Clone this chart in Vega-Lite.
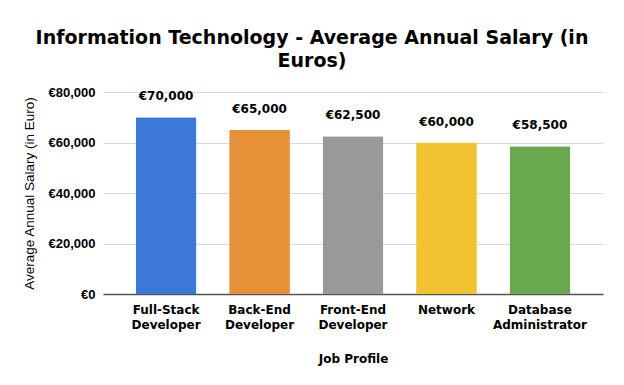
{
  "$schema": "https://vega.github.io/schema/vega-lite/v6.json",
  "width": 500,
  "height": 202,
  "autosize": {"type": "none"},
  "padding": {"left": 103, "top": 92, "right": 21, "bottom": 91},
  "background": "white",
  "title": {
    "text": ["Information Technology - Average Annual Salary (in", "Euros)"],
    "font": "DejaVu Sans",
    "fontSize": 19,
    "fontWeight": "bold",
    "color": "#000000",
    "anchor": "middle",
    "dx": -41,
    "offset": 15,
    "lineHeight": 23
  },
  "data": {
    "values": [
      {"job": "Full-Stack Developer", "salary": 70000, "label": "€70,000"},
      {"job": "Back-End Developer", "salary": 65000, "label": "€65,000"},
      {"job": "Front-End Developer", "salary": 62500, "label": "€62,500"},
      {"job": "Network", "salary": 60000, "label": "€60,000"},
      {"job": "Database Administrator", "salary": 58500, "label": "€58,500"}
    ]
  },
  "config": {
    "view": {"stroke": null}
  },
  "encoding": {
    "x": {
      "field": "job",
      "type": "nominal",
      "sort": null,
      "scale": {"paddingInner": 0.35, "paddingOuter": 0.35},
      "axis": {
        "title": "Job Profile",
        "titleFont": "DejaVu Sans",
        "titleFontSize": 12,
        "titleFontWeight": "bold",
        "titleColor": "#000000",
        "titlePadding": 23,
        "labelFont": "DejaVu Sans",
        "labelFontSize": 12,
        "labelFontWeight": "bold",
        "labelColor": "#000000",
        "labelAngle": 0,
        "labelPadding": 10,
        "labelLineHeight": 15,
        "labelExpr": "split(datum.label, ' ')",
        "ticks": false,
        "domain": true,
        "domainColor": "#555555",
        "domainWidth": 1.5
      }
    },
    "y": {
      "field": "salary",
      "type": "quantitative",
      "scale": {"domain": [0, 80000]},
      "axis": {
        "title": "Average Annual Salary (in Euro)",
        "titleFont": "Liberation Sans",
        "titleFontSize": 13.5,
        "titleFontWeight": 500,
        "titleColor": "#000000",
        "titlePadding": 12,
        "labelFont": "Liberation Sans",
        "labelFontSize": 13,
        "labelFontWeight": "bold",
        "labelColor": "#000000",
        "labelPadding": 8,
        "labelExpr": "'€' + format(datum.value, ',')",
        "values": [0, 20000, 40000, 60000, 80000],
        "ticks": false,
        "domain": false,
        "grid": true,
        "gridColor": "#d9d9d9",
        "gridWidth": 1
      }
    }
  },
  "layer": [
    {
      "mark": {"type": "bar", "cornerRadiusTopLeft": 1, "cornerRadiusTopRight": 1},
      "encoding": {
        "color": {
          "field": "job",
          "type": "nominal",
          "sort": null,
          "scale": {"range": ["#3c78d8", "#e69138", "#999999", "#f1c232", "#6aa84f"]},
          "legend": null
        }
      }
    },
    {
      "mark": {"type": "text", "dy": -14, "baseline": "bottom", "font": "DejaVu Sans", "fontSize": 12, "fontWeight": "bold", "color": "#000000"},
      "encoding": {
        "text": {"field": "label"}
      }
    }
  ]
}
